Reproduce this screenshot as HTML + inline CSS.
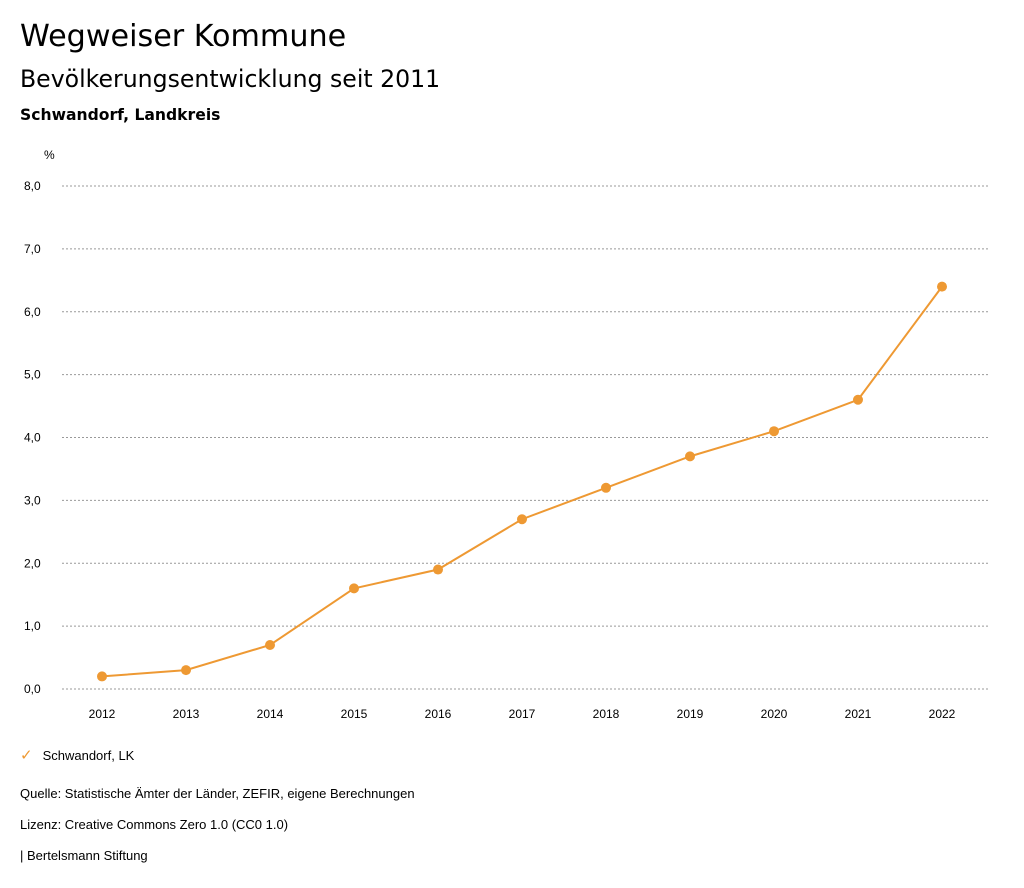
<!DOCTYPE html>
<html><head><meta charset="utf-8">
<style>
body{margin:0;background:#fff;font-family:"Liberation Sans",sans-serif;color:#000;}
#wrap{position:relative;width:1024px;height:888px;overflow:hidden;}
.t{position:absolute;white-space:nowrap;}
.dv{font-family:"DejaVu Sans",sans-serif;}
</style></head>
<body><div id="wrap">
<div class="t dv" style="left:20px;top:19px;font-size:30.2px;">Wegweiser Kommune</div>
<div class="t dv" style="left:20px;top:65px;font-size:23.6px;">Bevölkerungsentwicklung seit 2011</div>
<div class="t dv" style="left:20px;top:106px;font-size:15.6px;font-weight:bold;">Schwandorf, Landkreis</div>
<svg id="chart" width="1024" height="888" style="position:absolute;left:0;top:0"></svg>
<div class="t" style="left:20px;top:746px;font-size:13px;"><span style="color:#ee9933;font-size:15px;margin-right:10px;">✓</span>Schwandorf, LK</div>
<div class="t" style="left:20px;top:786px;font-size:13px;">Quelle: Statistische Ämter der Länder, ZEFIR, eigene Berechnungen</div>
<div class="t" style="left:20px;top:817px;font-size:13px;">Lizenz: Creative Commons Zero 1.0 (CC0 1.0)</div>
<div class="t" style="left:20px;top:848px;font-size:13px;">| Bertelsmann Stiftung</div>
</div>
<script>
const years=[2012,2013,2014,2015,2016,2017,2018,2019,2020,2021,2022];
const values=[0.2,0.3,0.7,1.6,1.9,2.7,3.2,3.7,4.1,4.6,6.4];
const yTicks=[0,1,2,3,4,5,6,7,8];
const NS="http://www.w3.org/2000/svg";
const svg=document.getElementById('chart');
const y=v=>689-v*(503/8);
const x=yr=>102+(yr-2012)*84;
function mk(tag,attrs){const e=document.createElementNS(NS,tag);for(const k in attrs)e.setAttribute(k,attrs[k]);svg.appendChild(e);return e;}
const u=mk('text',{x:44,y:159,'font-size':12,'font-family':'Liberation Sans, sans-serif'});u.textContent='%';


yTicks.forEach(t=>{
  const l=mk('line',{x1:62,x2:990,y1:y(t),y2:y(t),stroke:'#999','stroke-dasharray':'2,2','stroke-width':1});
  
  
  const tx=mk('text',{x:24,y:y(t)+4,'font-size':12,'font-family':'Liberation Sans, sans-serif'});
  tx.textContent=t.toFixed(1).replace('.',',');
  
  
});
years.forEach(yr=>{
  const tx=mk('text',{x:x(yr),y:718,'font-size':12,'text-anchor':'middle','font-family':'Liberation Sans, sans-serif'});
  tx.textContent=yr;
  
  
});
const p=mk('polyline',{points:years.map((yr,i)=>x(yr)+','+y(values[i])).join(' '),fill:'none',stroke:'#ee9933','stroke-width':2});


years.forEach((yr,i)=>{
  const c=mk('circle',{cx:x(yr),cy:y(values[i]),r:5,fill:'#ee9933'});
  
  
});
</script>
</body></html>
